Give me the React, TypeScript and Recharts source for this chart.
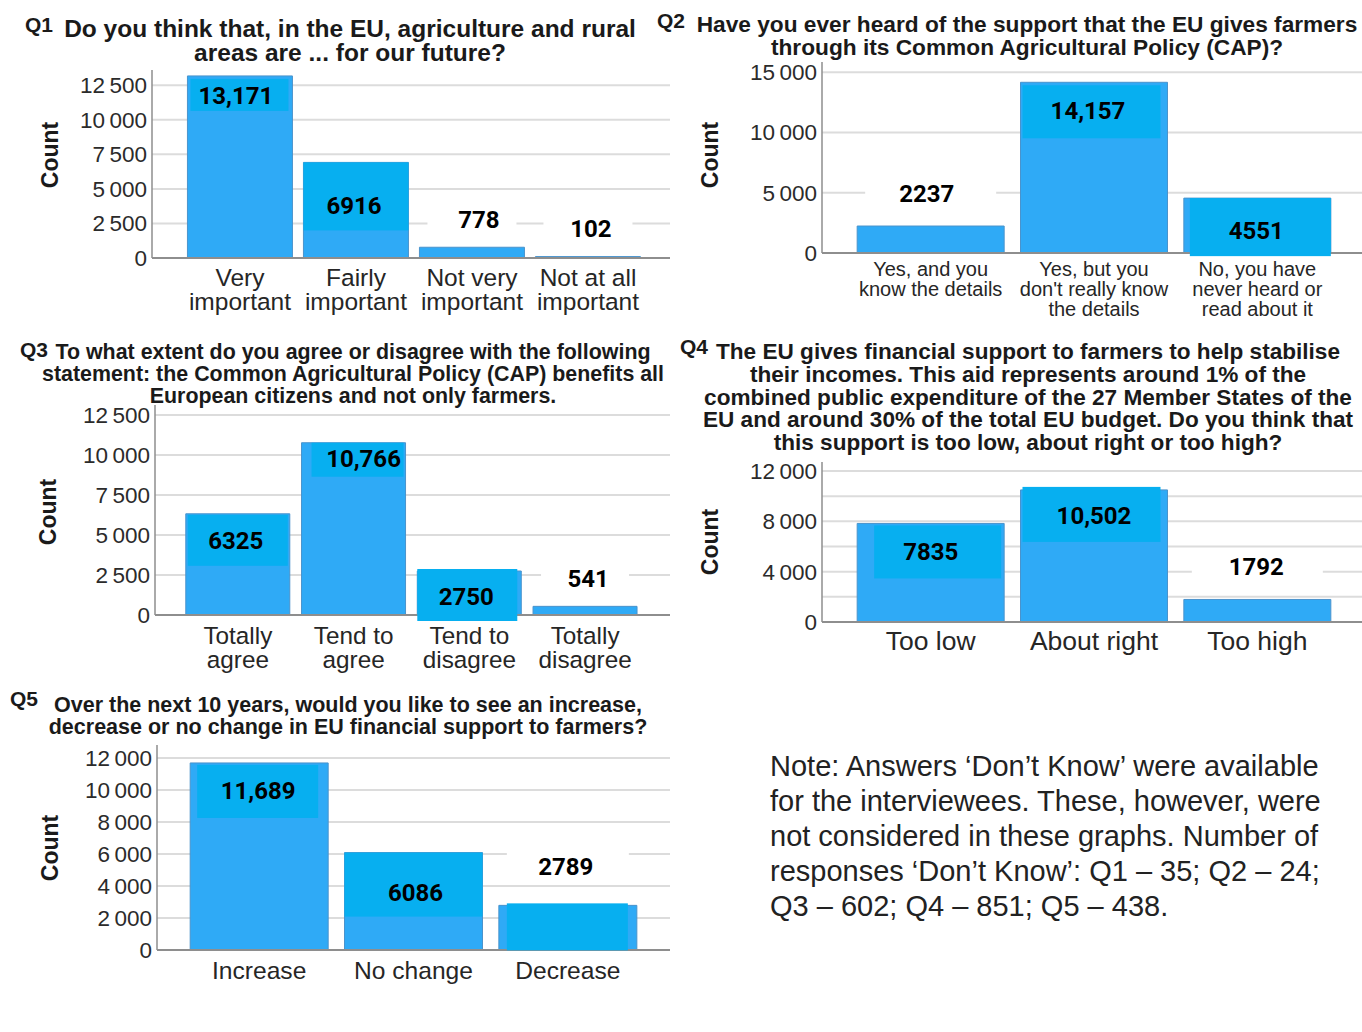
import React from 'react'
import { BarChart, Bar, XAxis, YAxis, CartesianGrid, LabelList } from 'recharts'

const BAR = '#2faaf6'
const BOX = '#07aff0'
const GRID = '#dcdcdc'
const AXIS = '#8e8e8e'
const SANS = '"Liberation Sans", Arial, sans-serif'
const VALUE_FONT = 'Roboto, "Liberation Sans", sans-serif'
const TOP_PAD = 16

// Q1
const Q1_TITLE = ['Do you think that, in the EU, agriculture and rural', 'areas are ... for our future?']
const Q1_CATS = ['Very\nimportant', 'Fairly\nimportant', 'Not very\nimportant', 'Not at all\nimportant']
const Q1_COUNTS = [13171, 6916, 778, 102]
const Q1_TEXTS = ['13,171', '6916', '778', '102']
const Q1_TICKS = [0, 2500, 5000, 7500, 10000, 12500]

// Q2
const Q2_TITLE = [
  'Have you ever heard of the support that the EU gives farmers',
  'through its Common Agricultural Policy (CAP)?',
]
const Q2_CATS = [
  'Yes, and you\nknow the details',
  "Yes, but you\ndon't really know\nthe details",
  'No, you have\nnever heard or\nread about it',
]
const Q2_COUNTS = [2237, 14157, 4551]
const Q2_TEXTS = ['2237', '14,157', '4551']
const Q2_TICKS = [0, 5000, 10000, 15000]

// Q3
const Q3_TITLE = [
  'To what extent do you agree or disagree with the following',
  'statement: the Common Agricultural Policy (CAP) benefits all',
  'European citizens and not only farmers.',
]
const Q3_CATS = ['Totally\nagree', 'Tend to\nagree', 'Tend to\ndisagree', 'Totally\ndisagree']
const Q3_COUNTS = [6325, 10766, 2750, 541]
const Q3_TEXTS = ['6325', '10,766', '2750', '541']
const Q3_TICKS = [0, 2500, 5000, 7500, 10000, 12500]

// Q4
const Q4_TITLE = [
  'The EU gives financial support to farmers to help stabilise',
  'their incomes. This aid represents around 1% of the',
  'combined public expenditure of the 27 Member States of the',
  'EU and around 30% of the total EU budget. Do you think that',
  'this support is too low, about right or too high?',
]
const Q4_CATS = ['Too low', 'About right', 'Too high']
const Q4_COUNTS = [7835, 10502, 1792]
const Q4_TEXTS = ['7835', '10,502', '1792']
const Q4_TICKS = [0, 4000, 8000, 12000]
const Q4_GRID = [0, 2000, 4000, 6000, 8000, 10000, 12000]

// Q5
const Q5_TITLE = [
  'Over the next 10 years, would you like to see an increase,',
  'decrease or no change in EU financial support to farmers?',
]
const Q5_CATS = ['Increase', 'No change', 'Decrease']
const Q5_COUNTS = [11689, 6086, 2789]
const Q5_TEXTS = ['11,689', '6086', '2789']
const Q5_TICKS = [0, 2000, 4000, 6000, 8000, 10000, 12000]

const NOTE = [
  'Note: Answers \u2018Don\u2019t Know\u2019 were available',
  'for the interviewees. These, however, were',
  'not considered in these graphs. Number of',
  'responses \u2018Don\u2019t Know\u2019: Q1 \u2013 35; Q2 \u2013 24;',
  'Q3 \u2013 602; Q4 \u2013 851; Q5 \u2013 438.',
]

type Mark = { dy: number; dx: number; box?: [number, number, number, number]; bg?: boolean }

type Panel = {
  left: number
  top: number
  width: number
  height: number
  yWidth: number
  xHeight: number
  max: number
  ticks: number[]
  grid: number[]
  padL: number
  padR: number
  gap: string
  cats: string[]
  counts: number[]
  texts: string[]
  marks: Mark[]
  catFont: number
  catLines: number[]
}

const fmtTick = (v: number) =>
  v >= 1000 ? `${Math.floor(v / 1000)}\u2009${String(v % 1000).padStart(3, '0')}` : String(v)

// top = y of the domain max line, height = plot + x axis
const PANELS: Panel[] = [
  {
    left: 0, top: 70, width: 670, height: 248, yWidth: 152, xHeight: 60, max: 13600,
    ticks: Q1_TICKS, grid: Q1_TICKS, padL: 30, padR: 24, gap: '4.7%',
    cats: Q1_CATS, counts: Q1_COUNTS, texts: Q1_TEXTS,
    marks: [
      { dy: 20, dx: -4, box: [3, 35, 3, 4] },
      { dy: 43, dx: -2, box: [0, 68, 0, 0] },
      { dy: -28, dx: 7, bg: true },
      { dy: -28, dx: 3, bg: true },
    ],
    catFont: 24.5, catLines: [19, 43],
  },
  {
    left: 680, top: 62, width: 682, height: 261, yWidth: 142, xHeight: 70, max: 15840,
    ticks: Q2_TICKS, grid: Q2_TICKS, padL: 27, padR: 23, gap: '5%',
    cats: Q2_CATS, counts: Q2_COUNTS, texts: Q2_TEXTS,
    marks: [
      { dy: -33, dx: -4, bg: true },
      { dy: 28, dx: -6, box: [3, 56, 2, 7] },
      { dy: 32, dx: -1, box: [0, 58, 6, 0] },
    ],
    catFont: 20, catLines: [16, 36, 56],
  },
  {
    left: 0, top: 405, width: 670, height: 270, yWidth: 155, xHeight: 60, max: 13125,
    ticks: Q3_TICKS, grid: Q3_TICKS, padL: 25, padR: 27, gap: '5%',
    cats: Q3_CATS, counts: Q3_COUNTS, texts: Q3_TEXTS,
    marks: [
      { dy: 27, dx: -2, box: [1, 52, 2, 2] },
      { dy: 16, dx: 10, box: [0, 34, 10, 2] },
      { dy: 25, dx: -3, box: [-2, 50, 0, 4] },
      { dy: -28, dx: 3, bg: true },
    ],
    catFont: 24.3, catLines: [20, 44],
  },
  {
    left: 680, top: 462, width: 682, height: 200, yWidth: 142, xHeight: 40, max: 12720,
    ticks: Q4_TICKS, grid: Q4_GRID, padL: 27, padR: 23, gap: '5%',
    cats: Q4_CATS, counts: Q4_COUNTS, texts: Q4_TEXTS,
    marks: [
      { dy: 28, dx: 0, box: [2, 55, 17, 3] },
      { dy: 26, dx: 0, box: [-3, 52, 2, 7] },
      { dy: -33, dx: -1, bg: true },
    ],
    catFont: 26.5, catLines: [19],
  },
  {
    left: 0, top: 745, width: 670, height: 245, yWidth: 157, xHeight: 40, max: 12810,
    ticks: Q5_TICKS, grid: Q5_TICKS, padL: 25, padR: 25, gap: '5.3%',
    cats: Q5_CATS, counts: Q5_COUNTS, texts: Q5_TEXTS,
    marks: [
      { dy: 28, dx: -1, box: [2, 55, 7, 10] },
      { dy: 40, dx: 2, box: [0, 64, 0, 0] },
      { dy: -39, dx: -2, bg: true, box: [-2, 45, 8, 9] },
    ],
    catFont: 24.6, catLines: [20],
  },
]

const TITLES = [
  { q: 'Q1', qx: 25, qy: 25, cx: 350, y0: 29, lh: 24, fs: 24.5, lines: Q1_TITLE },
  { q: 'Q2', qx: 657, qy: 21, cx: 1027, y0: 24, lh: 23, fs: 22.7, lines: Q2_TITLE },
  { q: 'Q3', qx: 20, qy: 350, cx: 353, y0: 352, lh: 22, fs: 21.4, lines: Q3_TITLE },
  { q: 'Q4', qx: 680, qy: 347, cx: 1028, y0: 352, lh: 22.75, fs: 22.6, lines: Q4_TITLE },
  { q: 'Q5', qx: 10, qy: 699, cx: 348, y0: 705, lh: 22, fs: 21.5, lines: Q5_TITLE },
]

const COUNT_POS = [
  [50, 155],
  [710, 155],
  [48, 512],
  [710, 542],
  [50, 848],
]

function ChartPanel({ p }: { p: Panel }) {
  const rows = p.cats.map((cat, i) => ({ cat, count: p.counts[i] }))

  const renderTick = (props: any) => {
    const { x, y, payload } = props
    const parts = String(payload.value).split('\n')
    return (
      <text textAnchor="middle" fontSize={p.catFont} fontFamily={SANS} fill="#262626">
        {parts.map((s, i) => (
          <tspan key={i} x={x} y={y + p.catLines[i] + p.catFont * 0.35}>
            {s}
          </tspan>
        ))}
      </text>
    )
  }

  const renderMark = (props: any) => {
    const { x, y, width, value } = props
    let idx = props.index
    if (idx === undefined) idx = p.counts.indexOf(Number(value))
    const m = p.marks[idx]
    if (!m) return null
    const cx = x + width / 2
    return (
      <g>
        {m.box && (
          <rect
            x={x + m.box[2]}
            y={y + m.box[0]}
            width={width - m.box[2] - m.box[3]}
            height={m.box[1] - m.box[0]}
            fill={BOX}
          />
        )}
        {m.bg && <rect x={x + 8} y={y + m.dy - 15} width={width - 16} height={30} fill="#fff" />}
        <text
          x={cx + m.dx}
          y={y + m.dy + 8.5}
          textAnchor="middle"
          fontFamily={VALUE_FONT}
          fontWeight={700}
          fontSize={24}
          fill="#000"
        >
          {p.texts[idx]}
        </text>
      </g>
    )
  }

  return (
    <div style={{ position: 'absolute', left: p.left, top: p.top - TOP_PAD }}>
      <BarChart
        width={p.width}
        height={p.height + TOP_PAD}
        data={rows}
        margin={{ top: TOP_PAD, right: 0, bottom: 0, left: 0 }}
        barCategoryGap={p.gap}
      >
        <CartesianGrid
          vertical={false}
          stroke={GRID}
          strokeWidth={2}
          horizontalValues={p.grid}
        />
        <XAxis
          dataKey="cat"
          height={p.xHeight}
          axisLine={{ stroke: AXIS, strokeWidth: 2 }}
          tickLine={false}
          tickSize={0}
          tickMargin={0}
          interval={0}
          padding={{ left: p.padL, right: p.padR }}
          tick={renderTick}
        />
        <YAxis
          type="number"
          width={p.yWidth}
          domain={[0, p.max]}
          ticks={p.ticks}
          interval={0}
          allowDataOverflow
          axisLine={{ stroke: AXIS, strokeWidth: 1.5 }}
          tickLine={false}
          tickSize={0}
          tickMargin={5}
          tickFormatter={fmtTick}
          tick={{ fontSize: 22.5, fill: '#2b2b2b', fontFamily: SANS }}
        />
        <Bar dataKey="count" fill={BAR} stroke="#4a93cc" strokeWidth={1} isAnimationActive={false}>
          <LabelList dataKey="count" content={renderMark} />
        </Bar>
      </BarChart>
    </div>
  )
}

export default function App() {
  return (
    <div
      style={{
        position: 'absolute',
        left: 0,
        top: 0,
        width: 1362,
        height: 1032,
        background: '#fff',
        overflow: 'hidden',
        fontFamily: SANS,
      }}
    >
      {PANELS.map((p, i) => (
        <ChartPanel key={i} p={p} />
      ))}

      {TITLES.map((t) => (
        <React.Fragment key={t.q}>
          <div
            style={{
              position: 'absolute',
              left: t.qx,
              top: t.qy - 10,
              fontSize: 21,
              fontWeight: 700,
              lineHeight: '20px',
              color: '#1a1a1a',
            }}
          >
            {t.q}
          </div>
          {t.lines.map((line, i) => (
            <div
              key={i}
              style={{
                position: 'absolute',
                left: t.cx,
                top: t.y0 + i * t.lh - 9,
                transform: 'translateX(-50%)',
                fontSize: t.fs,
                lineHeight: '18px',
                fontWeight: 700,
                color: '#1a1a1a',
                whiteSpace: 'nowrap',
              }}
            >
              {line}
            </div>
          ))}
        </React.Fragment>
      ))}

      {COUNT_POS.map(([x, y], i) => (
        <div
          key={i}
          style={{
            position: 'absolute',
            left: x,
            top: y,
            transform: 'translate(-50%, -50%) rotate(-90deg)',
            fontSize: 23,
            fontWeight: 700,
            color: '#1a1a1a',
            lineHeight: '26px',
          }}
        >
          Count
        </div>
      ))}

      <div
        style={{
          position: 'absolute',
          left: 770,
          top: 749,
          fontSize: 29,
          lineHeight: '35px',
          color: '#222',
          whiteSpace: 'pre',
        }}
      >
        {NOTE.join('\n')}
      </div>
    </div>
  )
}
